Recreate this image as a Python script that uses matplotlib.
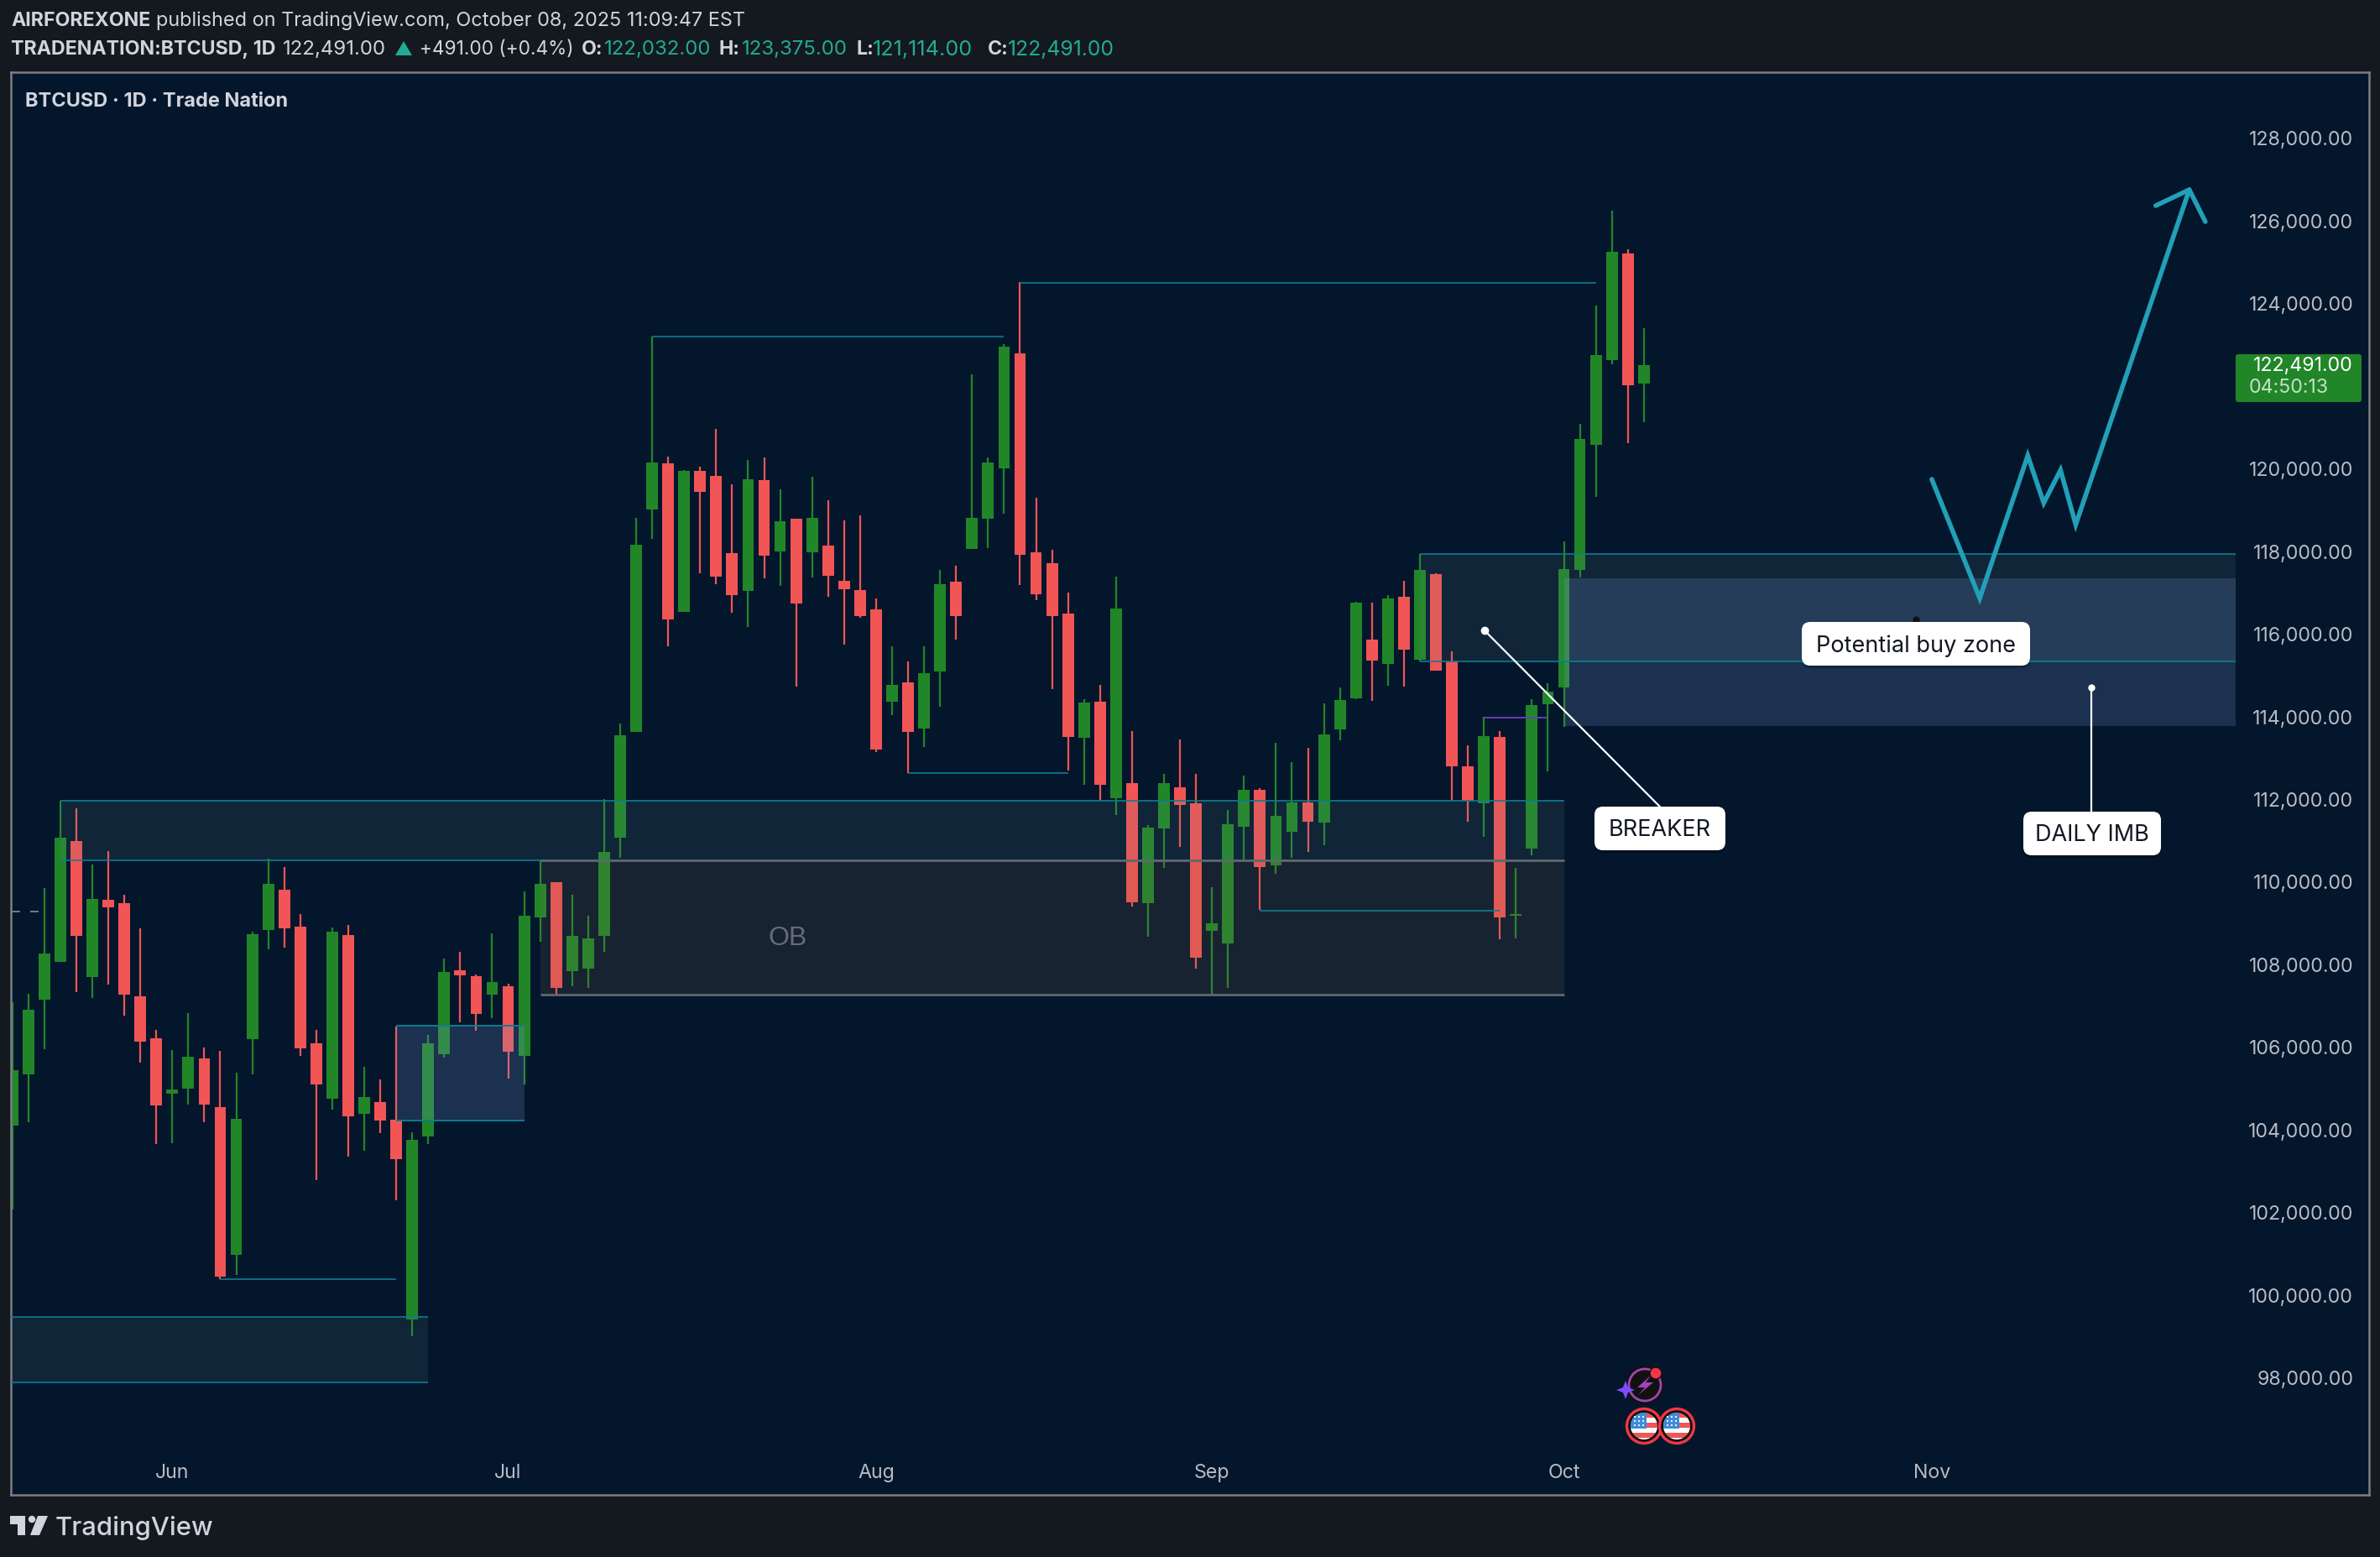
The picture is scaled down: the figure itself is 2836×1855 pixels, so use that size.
import matplotlib
matplotlib.use("Agg")
import matplotlib.pyplot as plt
from matplotlib.patches import Rectangle, FancyBboxPatch, Circle, Polygon

plt.rcParams['font.family'] = ['Inter', 'DejaVu Sans']

# one row per weekday candle, idx 0 is the clipped one at the left edge
opens = [104100, 105330, 107140, 108050, 110970, 107680, 109550, 109470, 107220, 106210,
         104860, 104990, 105710, 104530, 100960, 106190, 108820, 109800, 108900, 106080,
         104740, 108700, 104380, 104660, 104240, 99400, 103820, 105810, 107850, 107700,
         107260, 107470, 105770, 109130, 109980, 107830, 107890, 108680, 111050, 113610,
         118990, 120110, 116520, 119930, 119810, 117940, 117030, 119710, 117980, 118770,
         117950, 118120, 117260, 117040, 116570, 114340, 114810, 113700, 115080, 117250,
         118040, 118770, 119990, 122770, 117950, 117700, 116480, 113470, 114340, 112010,
         112370, 109470, 111280, 112280, 111880, 108810, 108500, 111320, 112210, 110390,
         111200, 111910, 111420, 113680, 114420, 115850, 115260, 116880, 115360, 117430,
         115310, 112780, 111880, 113490, 109170, 110790, 114280, 114690, 117540, 120560,
         122610, 125180, 122032]
highs = [107070, 107280, 109840, 111950, 111770, 110410, 110730, 109670, 108860, 106400,
         105920, 106820, 105980, 105900, 105370, 108790, 110550, 110350, 109210, 106400,
         108880, 108940, 105520, 105210, 106490, 103930, 106290, 108140, 108290, 107740,
         108750, 107530, 109760, 110510, 109980, 109670, 109170, 111990, 113810, 118790,
         123180, 120270, 119950, 120040, 120950, 119600, 120190, 120260, 119480, 118770,
         119790, 119220, 118730, 118860, 116840, 115680, 115320, 115680, 117530, 117640,
         122270, 120250, 123000, 124490, 119280, 118020, 116980, 114410, 114750, 117370,
         113630, 111360, 112590, 113430, 112590, 109860, 111730, 112560, 112260, 113350,
         112890, 113220, 114300, 114690, 116770, 116740, 116920, 117270, 117920, 117450,
         115570, 113290, 113970, 113630, 110320, 114410, 114800, 118220, 121070, 123930,
         126230, 125290, 123375]
lows = [102060, 104170, 105940, 108050, 107320, 107180, 107500, 106750, 105620, 103650,
        103670, 104600, 104170, 100370, 100480, 105330, 108350, 108390, 105770, 102770,
        104470, 103340, 103480, 103910, 102280, 98990, 103650, 105730, 106590, 106380,
        106690, 105230, 105080, 108540, 107260, 107470, 107420, 108290, 110560, 113610,
        118280, 115680, 116520, 117450, 117190, 116500, 116150, 117330, 117150, 114720,
        117350, 116880, 115720, 116370, 113120, 114020, 112620, 113250, 114230, 115850,
        118040, 118060, 118890, 117170, 116810, 114650, 112680, 112340, 111940, 111600,
        109390, 108650, 110320, 110830, 107890, 107240, 107420, 110520, 109300, 110180,
        110570, 110710, 110870, 113420, 114410, 114370, 114730, 114720, 115310, 115100,
        111940, 111440, 111080, 108600, 108620, 110620, 112660, 113740, 117350, 119300,
        122510, 120600, 121114]
closes = [105430, 106900, 108250, 111060, 108680, 109570, 109380, 107260, 106120, 104580,
          104970, 105750, 104600, 100440, 104260, 108720, 109940, 108860, 105960, 105080,
          108790, 104320, 104780, 104210, 103280, 103750, 106080, 107810, 107720, 106790,
          107560, 105880, 109170, 109940, 107420, 108680, 108620, 110710, 113540, 118150,
          120130, 116340, 119930, 119420, 117370, 116920, 119730, 117880, 118710, 116720,
          118790, 117390, 117060, 116410, 113190, 114750, 113610, 115030, 117190, 116410,
          118790, 120130, 122930, 117900, 116950, 116410, 113490, 114320, 112340, 116600,
          109490, 111300, 112370, 111850, 108150, 108980, 111380, 112210, 110340, 111580,
          111910, 111440, 113550, 114390, 116740, 115340, 116850, 115600, 117540, 115100,
          112780, 111950, 113510, 109130, 109200, 114260, 114590, 117560, 120710, 122730,
          125230, 122000, 122491]

# 122,000 sits behind the last price tag, so it gets no label
price_ticks = [p for p in range(98000, 128001, 2000) if p != 122000]
month_names = ['Jun', 'Jul', 'Aug', 'Sep', 'Oct', 'Nov']
month_idx = [10, 31, 54, 75, 97, 120]

# zones: left idx, right idx, bottom, top
liq_zones = [(3, 97, 110507, 111954), (-2, 26, 97880, 99464), (88, 139, 115320, 117922)]
ob_zone = (33, 97, 107260, 110507)
imb_zones = [(24, 32, 104218, 106501), (97, 139, 113752, 117333)]
# swing lines: left idx, right idx, level
swing_lines = [(40, 62, 123178), (63, 99, 124485), (13, 24, 100370), (56, 66, 112623), (78, 93, 109295)]
purple_line = (92, 96, 113961)
path_x = [120.0, 123.0, 126.0, 127.0, 128.05, 129.0, 136.1]
path_y = [119726, 116847, 120296, 119153, 119947, 118629, 126731]
head_x = [134.0, 136.1, 137.1]
head_y = [126345, 126731, 125959]

BG = '#14181f'
PANE = '#04162c'
GREEN = '#218628'
RED = '#f15555'
TEAL = '#0e7c92'
GRID_TXT = '#b8bbc3'
LIGHT = '#d1d4dc'
UP = '#22ab94'

W, H = 2836, 1856
fig = plt.figure(figsize=(W / 100, H / 100), dpi=100, facecolor=BG)
L, T, R, B = 13, 87, 2823, 1782
ax = fig.add_axes([L / W, 1 - B / H, (R - L) / W, (B - T) / H], facecolor=PANE)
ax.set_xlim(-0.089, 147.34)
ax.set_ylim(95157, 129574)

# candles
for i in range(len(opens)):
    col = GREEN if closes[i] >= opens[i] else RED
    ax.vlines(i, lows[i], highs[i], color=col, lw=1.6, zorder=2)
    ax.bar(i, abs(closes[i] - opens[i]), bottom=min(opens[i], closes[i]), width=0.725, color=col, zorder=2)

# zones go over the candles
for x0, x1, y0, y1 in liq_zones:
    ax.add_patch(Rectangle((x0, y0), x1 - x0, y1 - y0, fc=(104/255, 147/255, 144/255), alpha=0.12, ec='none', zorder=3))
    ax.hlines([y0, y1], x0, x1, color=TEAL, lw=1.2, zorder=4)
x0, x1, y0, y1 = ob_zone
ax.add_patch(Rectangle((x0, y0), x1 - x0, y1 - y0, fc=(137/255, 115/255, 84/255), alpha=0.15, ec='none', zorder=3))
ax.hlines([y0, y1], x0, x1, color='#5f676e', lw=2.0, zorder=4)
ax.text((x0 + x1) / 2 - 16.5, 108640, 'OB', color='#666c78', fontsize=23, ha='center', va='center',
        family=['Liberation Sans', 'DejaVu Sans'], zorder=5)
for x0, x1, y0, y1 in imb_zones:
    ax.add_patch(Rectangle((x0, y0), x1 - x0, y1 - y0, fc=(124/255, 162/255, 224/255), alpha=0.2, ec='none', zorder=3))
ax.hlines([imb_zones[0][2], imb_zones[0][3]], imb_zones[0][0], imb_zones[0][1], color=TEAL, lw=1.4, zorder=4)

for x0, x1, y in swing_lines:
    ax.hlines(y, x0, x1, color=TEAL, lw=1.2, zorder=4)
ax.hlines(purple_line[2], purple_line[0], purple_line[1], color='#6a3db5', lw=1.4, zorder=4)
ax.plot([-0.089, 1.65], [109277, 109277], color='#787b86', lw=1.4, ls=(0, (5.6, 6.2)), zorder=4)

# projected path
ax.plot(path_x, path_y, color='#22a0b8', lw=4, solid_joinstyle='miter', solid_capstyle='round', zorder=6)
ax.plot(head_x, head_y, color='#22a0b8', lw=4, solid_joinstyle='round', solid_capstyle='round', zorder=6)

# callout stems
ax.plot([92.03, 103.0], [116071, 111807], color='white', lw=1.6, zorder=6)
ax.plot([92.03], [116071], 'o', color='white', ms=6, zorder=6)
ax.plot([130, 130], [114690, 111700], color='white', lw=1.6, zorder=6)
ax.plot([130], [114690], 'o', color='white', ms=5, zorder=6)
ax.plot([119], [116345], 'o', color='#111111', ms=5, zorder=5)

ax.yaxis.tick_right()
ax.set_yticks(price_ticks)
ax.set_yticklabels([f'{p:,.2f}' for p in price_ticks])
ax.tick_params(axis='y', length=0, pad=-13.5, labelsize=16.7, labelcolor=GRID_TXT)
for lab in ax.get_yticklabels():
    lab.set_ha('right')
ax.set_xticks(month_idx)
ax.set_xticklabels(month_names)
ax.tick_params(axis='x', length=0, pad=-27, labelsize=16.7, labelcolor=GRID_TXT)
for s in ax.spines.values():
    s.set_color('#7b7e82')
    s.set_linewidth(1.8)

# pixel overlay for the page furniture
ov = fig.add_axes([0, 0, 1, 1], facecolor='none')
ov.set_xlim(0, W)
ov.set_ylim(H, 0)
ov.axis('off')

HEAD_B = dict(color=LIGHT, fontweight='bold', va='center', fontsize=16.7)
HEAD_R = dict(color=LIGHT, va='center', fontsize=16.9)
VAL = dict(color=UP, va='center', fontsize=17.3)

ov.text(13, 25, 'AIRFOREXONE', **HEAD_B)
ov.text(186, 25, 'published on TradingView.com, October 08, 2025 11:09:47 EST', **HEAD_R)
ov.text(13, 59, 'TRADENATION:BTCUSD, 1D', **HEAD_B)
ov.text(337, 59, '122,491.00', color=LIGHT, va='center', fontsize=17.3)
ov.add_patch(Polygon([(471, 67), (491, 67), (481, 50)], fc=UP, ec='none'))
ov.text(500, 59, '+491.00 (+0.4%)', color=LIGHT, va='center', fontsize=16.3)
ov.text(693, 59, 'O:', **HEAD_B)
ov.text(720, 59, '122,032.00', **VAL)
ov.text(857, 59, 'H:', **HEAD_B)
ov.text(884, 59, '123,375.00', **VAL)
ov.text(1020, 59, 'L:', **HEAD_B)
ov.text(1040, 59, '121,114.00', color=UP, va='center', fontsize=18.2)
ov.text(1177, 59, 'C:', **HEAD_B)
ov.text(1201, 59, '122,491.00', color=UP, va='center', fontsize=17.8)
ov.text(30, 121, 'BTCUSD · 1D · Trade Nation', color=LIGHT, fontsize=17, fontweight='bold', va='center')

# last price tag
ov.add_patch(FancyBboxPatch((2664, 423), 150, 57, boxstyle='round,pad=0,rounding_size=3', fc=GREEN, ec='none'))
ov.text(2804, 436, '122,491.00', color='white', fontsize=16.7, ha='right', va='center')
ov.text(2680, 462, '04:50:13', color='#c5e0c7', fontsize=16.7, ha='left', va='center')

# callout boxes
boxes = [(1900, 962, 156, 52, 'BREAKER'), (2147, 742, 272, 52, 'Potential buy zone'), (2411, 968, 164, 52, 'DAILY IMB')]
for bx, by, bw, bh, label in boxes:
    ov.add_patch(FancyBboxPatch((bx, by + 3), bw, bh, boxstyle='round,pad=0,rounding_size=10', fc='black', alpha=0.25, ec='none'))
    ov.add_patch(FancyBboxPatch((bx, by), bw, bh, boxstyle='round,pad=0,rounding_size=10', fc='white', ec='none'))
    ov.text(bx + bw / 2, by + bh / 2 + 1.5, label, color='#131722', fontsize=19.5, ha='center', va='center')

# event icons
ov.add_patch(Circle((1960, 1651), 23, fc='#111111', ec='none'))
ov.add_patch(Circle((1960, 1651), 19, fc='none', ec='#a044b8', lw=2))
ov.add_patch(Polygon([(1968, 1639), (1951, 1654), (1960, 1654), (1952, 1663), (1970, 1648), (1961, 1648)], fc='#a044b8', ec='none'))
ov.add_patch(Circle((1973, 1637), 7, fc='#f23645', ec='#111111', lw=1))
ov.add_patch(Polygon([(1937, 1646), (1940, 1654), (1948, 1657), (1940, 1660), (1937, 1668), (1934, 1660), (1926, 1657), (1934, 1654)], fc='#7c4dff', ec='none'))
for cx in [1959, 1998]:
    ov.add_patch(Circle((cx, 1700), 20.5, fc='#111111', ec='#f23645', lw=2.4))
    disc = Circle((cx, 1700), 16, transform=ov.transData)
    for k in range(6):
        r = Rectangle((cx - 17, 1684 + k * 6), 34, 6, fc='#f15555' if k % 2 == 0 else 'white', ec='none')
        ov.add_patch(r)
        r.set_clip_path(disc)
    r = Rectangle((cx - 17, 1684), 20, 19, fc='#3d8bd9', ec='none')
    ov.add_patch(r)
    r.set_clip_path(disc)
    for sx in [cx - 11, cx - 6, cx - 1]:
        for sy in [1689, 1694, 1699]:
            ov.add_patch(Circle((sx, sy), 1.1, fc='white', ec='none'))

# TradingView logo
ov.add_patch(Polygon([(12, 1807), (30, 1807), (30, 1830), (21, 1830), (21, 1817), (12, 1817)], fc=LIGHT, ec='none'))
ov.add_patch(Circle((38, 1811), 4.2, fc=LIGHT, ec='none'))
ov.add_patch(Polygon([(45, 1807), (57, 1807), (47, 1830), (36, 1830)], fc=LIGHT, ec='none'))
ov.text(66, 1821, 'TradingView', color=LIGHT, fontsize=22.3, fontweight='medium', va='center')

fig.savefig('out.png', dpi=100, facecolor=BG)
